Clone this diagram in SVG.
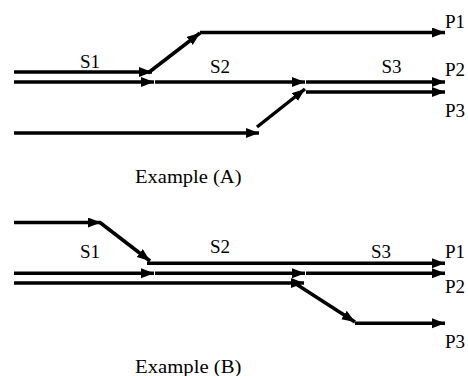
<svg xmlns="http://www.w3.org/2000/svg" width="468" height="376" viewBox="0 0 468 376">
  <style>
    .ln { stroke: #000; stroke-width: 3.5; fill: none; }
    .ar { marker-end: url(#ah); }
    text { font-family: 'Liberation Serif', 'Times New Roman', serif; fill: #000; }
    .lb { font-size: 19px; }
    .cap { font-size: 18px; }
  </style>
  <defs>
    <marker id="ah" markerUnits="userSpaceOnUse" markerWidth="14" markerHeight="11" refX="13" refY="5" orient="auto">
      <path d="M0,0 L13,5 L0,10 Z" fill="#000"/>
    </marker>
  </defs>
  <rect width="468" height="376" fill="#fff"/>

  <!-- Example (A) -->
  <g id="connectors-a">
    <line class="ln ar" x1="14" y1="72" x2="152" y2="72"/>
    <line class="ln ar" x1="148" y1="73" x2="200" y2="33"/>
    <line class="ln ar" x1="200" y1="32.5" x2="445" y2="32.5"/>
    <line class="ln ar" x1="14" y1="82" x2="154" y2="82"/>
    <line class="ln ar" x1="155" y1="82" x2="305" y2="82"/>
    <line class="ln ar" x1="306" y1="82" x2="445" y2="82"/>
    <line class="ln ar" x1="14" y1="133" x2="259" y2="133"/>
    <line class="ln ar" x1="257" y1="127" x2="305" y2="89"/>
    <line class="ln ar" x1="306" y1="92" x2="445" y2="92"/>
  </g>
  <g id="labels-a">
    <text class="lb" x="80" y="67.5">S1</text>
    <text class="lb" x="210" y="73">S2</text>
    <text class="lb" x="381.5" y="73">S3</text>
    <text class="lb" x="445" y="27.5">P1</text>
    <text class="lb" x="445" y="76">P2</text>
    <text class="lb" x="445" y="116.5">P3</text>
    <text class="cap" x="135" y="183.3" textLength="106.5" lengthAdjust="spacingAndGlyphs">Example (A)</text>
  </g>

  <!-- Example (B) -->
  <g id="connectors-b">
    <line class="ln ar" x1="14" y1="222.5" x2="101" y2="222.5"/>
    <line class="ln ar" x1="100" y1="222.5" x2="150" y2="261"/>
    <line class="ln ar" x1="147" y1="263.3" x2="445" y2="263.3"/>
    <line class="ln ar" x1="14" y1="273.3" x2="154" y2="273.3"/>
    <line class="ln ar" x1="155" y1="273.3" x2="305" y2="273.3"/>
    <line class="ln ar" x1="306" y1="273.3" x2="445" y2="273.3"/>
    <line class="ln ar" x1="14" y1="283" x2="304" y2="283"/>
    <line class="ln ar" x1="296" y1="284" x2="355" y2="322"/>
    <line class="ln ar" x1="355" y1="323.3" x2="445" y2="323.3"/>
  </g>
  <g id="labels-b">
    <text class="lb" x="80" y="258">S1</text>
    <text class="lb" x="210" y="253">S2</text>
    <text class="lb" x="371" y="258">S3</text>
    <text class="lb" x="445" y="258">P1</text>
    <text class="lb" x="445" y="293">P2</text>
    <text class="lb" x="445" y="347.5">P3</text>
    <text class="cap" x="135" y="373.3" textLength="106.5" lengthAdjust="spacingAndGlyphs">Example (B)</text>
  </g>
</svg>
